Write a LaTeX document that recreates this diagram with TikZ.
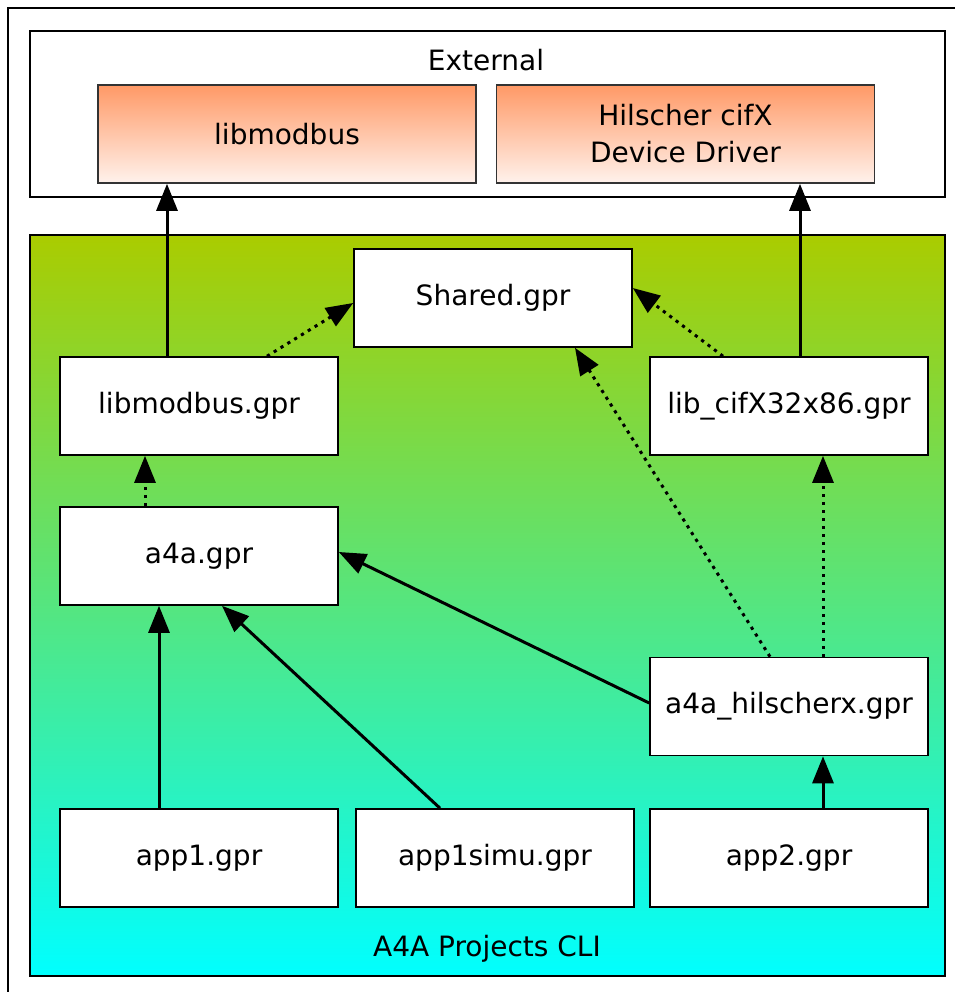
\documentclass[tikz,border=0pt]{standalone}
\usepackage{xcolor}
\usepackage{fontspec}
\setmainfont{DejaVu Sans}
\usepackage{tikz}
\usetikzlibrary{arrows.meta,calc}

\definecolor{extTop}{HTML}{FF9966}
\definecolor{extBot}{HTML}{FFF2EC}
\definecolor{cliTop}{HTML}{AACC00}
\definecolor{cliBot}{HTML}{00FFFF}

\tikzset{
  Cluster/.style={draw=black, line width=0.8pt, minimum width=457.5pt, inner sep=0pt},
  ExtLib/.style={draw=black!80, line width=0.8pt, top color=extTop, bottom color=extBot,
                 minimum width=189pt, minimum height=49pt, align=center},
  GprBox/.style={draw=black, line width=0.8pt, fill=white,
                 minimum width=139pt, minimum height=49pt},
  dep/.style={line width=1.5pt, -{Triangle[length=13.5pt,width=10.5pt]}},
  use/.style={dep, dash pattern=on 1.6pt off 2.4pt}
}

\begin{document}
\begin{tikzpicture}[x=0.5pt,y=-0.5pt,font=\fontsize{14pt}{18.5pt}\selectfont]
  \useasboundingbox (0,0) rectangle (955,992);
  \draw[line width=0.9pt] (8,992) -- (8,8) -- (955,8);

  % external
  \node[Cluster, fill=white, minimum height=83pt] (ext) at (487.5,114) {};
  \node (extlbl) at (486,60) {External};
  \node[ExtLib] (lm) at (287,134) {libmodbus};
  \node[ExtLib] (hil) at (685.5,134) {Hilscher cifX\\Device Driver};

  % projects
  \node[Cluster, top color=cliTop, bottom color=cliBot, minimum height=370.5pt] (cli) at (487.5,605.5) {};
  \node (clilbl) at (487,949) {A4A Projects CLI};

  \node[GprBox] (shr) at (493,298) {Shared.gpr};
  \node[GprBox] (lmg) at (199,406) {libmodbus.gpr};
  \node[GprBox] (lcg) at (789,406) {lib\_cifX32x86.gpr};
  \node[GprBox] (a4a) at (199,556) {a4a.gpr};
  \node[GprBox] (hxg) at (789,706.5) {a4a\_hilscherx.gpr};
  \node[GprBox] (app1) at (199,858) {app1.gpr};
  \node[GprBox] (sim) at (495,858) {app1simu.gpr};
  \node[GprBox] (app2) at (789,858) {app2.gpr};

  % to external
  \draw[dep] ([xshift=-16pt]lmg.north) -- ([xshift=-60pt]lm.south);
  \draw[dep] ([xshift=5.5pt]lcg.north) -- ([xshift=57.25pt]hil.south);

  % libs
  \draw[use] ([xshift=34pt]lmg.north) -- ([yshift=-2.5pt]shr.west);
  \draw[use] ([xshift=-33pt]lcg.north) -- ([yshift=5pt]shr.east);
  \draw[use] ([xshift=-27pt]a4a.north) -- ([xshift=-27pt]lmg.south);

  % hilscherx
  \draw[use] ([xshift=-9.5pt]hxg.north) -- ([xshift=41pt]shr.south);
  \draw[use] ([xshift=17pt]hxg.north) -- ([xshift=17pt]lcg.south);
  \draw[dep] ([yshift=1.75pt]hxg.west) -- ([yshift=2pt]a4a.east);

  % apps
  \draw[dep] ([xshift=-20pt]app1.north) -- ([xshift=-20pt]a4a.south);
  \draw[dep] ([xshift=-27.5pt]sim.north) -- ([xshift=11.5pt]a4a.south);
  \draw[dep] ([xshift=17pt]app2.north) -- ([xshift=17pt]hxg.south);
\end{tikzpicture}
\end{document}
